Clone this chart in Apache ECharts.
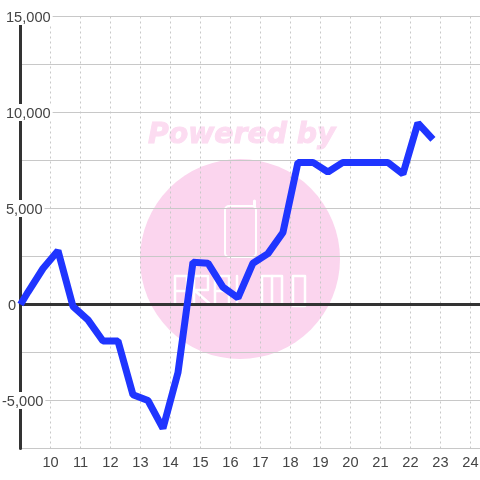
<!DOCTYPE html>
<html><head><meta charset="utf-8">
<style>html,body{margin:0;padding:0;background:#fff}#c{width:480px;height:480px}</style>
<script src="https://cdn.jsdelivr.net/npm/echarts@6/dist/echarts.min.js"></script>
</head><body><div id="c"></div>
<script>
var hours = [9,9.25,9.75,10.25,10.75,11.25,11.75,12.25,12.75,13.25,13.75,14.25,14.75,15.25,15.75,16.25,16.75,17.25,17.75,18.25,18.75,19.25,19.75,20.25,20.75,21.25,21.75,22.25,22.75];
var values = [0,650,1875,2800,-100,-800,-1900,-1900,-4700,-5000,-6450,-3550,2200,2150,900,350,2150,2650,3750,7400,7400,6900,7400,7400,7400,7400,6800,9450,8600];
var yTickLabels = {'15000':'15,000','10000':'10,000','5000':'5,000','0':'0','-5000':'-5,000'};
var yLabelStyle = {'15000':'a','10000':'a','5000':'a','0':'z','-5000':'n'};
var watermarkText = 'Powered by';

var labelBase = {fontFamily:'Liberation Sans',fontSize:14.6,color:'#444',backgroundColor:'#fff',height:15,lineHeight:15};
function tok(pad){return Object.assign({},labelBase,{padding:[2,2,0,pad]});}
function logoLine(points){return {type:'polyline',z:-9,shape:{points:points},style:{fill:'none',stroke:'#fff',lineWidth:2.5,lineCap:'round',lineJoin:'round'}};}

var chart = echarts.init(document.getElementById('c'),null,{renderer:'canvas'});
chart.setOption({
  animation:false,
  backgroundColor:'#fff',
  grid:{left:20.5,right:0,top:16.5,bottom:31.5,containLabel:false,outerBoundsMode:'none'},
  graphic:[
    {type:'circle',z:-10,shape:{cx:240,cy:259,r:100},style:{fill:'#fbd5ee'}},
    {type:'text',z:-10,x:148,y:122,style:{text:watermarkText,fontFamily:'DejaVu Sans',fontWeight:'bold',fontStyle:'italic',fontSize:28.3,fill:'#fcdcf1',stroke:'#fcdcf1',lineWidth:1}},
    {type:'rect',z:-9,shape:{x:225,y:206,width:31,height:51,r:4},style:{fill:'none',stroke:'#fff',lineWidth:2}},
    {type:'line',z:-9,shape:{x1:254.5,y1:206,x2:254.5,y2:201},style:{stroke:'#fff',lineWidth:3,lineCap:'round'}},
    logoLine([[175,303],[175,276],[187,276],[187,303]]),
    logoLine([[175,291],[187,291]]),
    logoLine([[194,303],[194,276],[208,276],[208,290],[194,290],[209,303]]),
    logoLine([[215,303],[215,276],[229,276],[229,303]]),
    logoLine([[215,291],[229,291]]),
    logoLine([[237,276],[237,303]]),
    logoLine([[262,305],[262,276],[282,276],[282,305]]),
    logoLine([[272,276],[272,305]]),
    logoLine([[293,276],[305,276],[305,306],[293,306],[293,276]])
  ],
  xAxis:{
    type:'value',min:9,max:24.32,interval:1,
    axisLine:{show:true,onZero:true,lineStyle:{color:'#333',width:3}},
    axisTick:{show:false},
    axisLabel:{fontFamily:'Liberation Sans',fontSize:14.6,color:'#444',margin:7,showMinLabel:false,
      formatter:function(v){return (Number.isInteger(v)&&v>9)?String(v):'';}},
    splitLine:{show:true,lineStyle:{color:'#c8c8c8',width:1,type:[2,3]}}
  },
  yAxis:{
    type:'value',min:-7500,max:15000,interval:2500,
    axisLine:{show:true,onZero:false,lineStyle:{color:'#333',width:3}},
    axisTick:{show:false},
    axisLabel:{align:'left',margin:18.5,
      formatter:function(v){var k=String(v);return yTickLabels[k]?'{'+yLabelStyle[k]+'|'+yTickLabels[k]+'}':'';},
      rich:{a:tok(4),z:tok(6),n:tok(0)}},
    splitLine:{show:true,lineStyle:{color:'#c8c8c8',width:1}}
  },
  series:[{
    type:'line',clip:false,showSymbol:false,smooth:false,z:5,
    lineStyle:{color:'#1f35ff',width:7,join:'bevel',cap:'butt'},
    data:hours.map(function(h,i){return [h,values[i]];})
  }]
});
</script></body></html>
